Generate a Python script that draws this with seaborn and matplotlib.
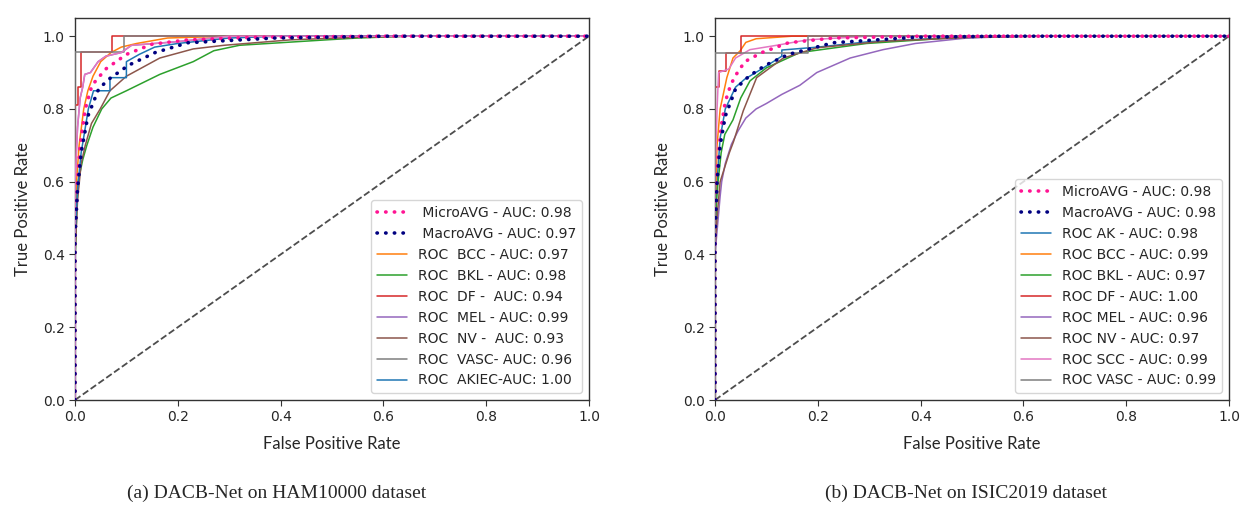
import matplotlib.pyplot as plt
import seaborn as sns

# ---- HAM10000 (left panel) ----
ham_micro_fpr = [0, 0, 0.005, 0.01, 0.02, 0.033, 0.06, 0.1, 0.15, 0.22, 0.35, 0.6, 1.0]
ham_micro_tpr = [0, 0.45, 0.6, 0.7, 0.8, 0.865, 0.91, 0.95, 0.978, 0.99, 0.997, 1.0, 1.0]
ham_macro_fpr = [0, 0, 0.005, 0.012, 0.025, 0.046, 0.066, 0.104, 0.156, 0.22, 0.39, 0.6, 1.0]
ham_macro_tpr = [0, 0.45, 0.58, 0.68, 0.78, 0.855, 0.882, 0.92, 0.955, 0.982, 0.995, 1.0, 1.0]
ham_bcc_fpr = [0, 0, 0.003, 0.008, 0.017, 0.025, 0.035, 0.05, 0.07, 0.09, 0.12, 0.18, 0.3, 1.0]
ham_bcc_tpr = [0, 0.45, 0.6, 0.7, 0.8, 0.85, 0.89, 0.93, 0.955, 0.97, 0.98, 0.995, 1.0, 1.0]
ham_bkl_fpr = [0, 0, 0.003, 0.006, 0.015, 0.023, 0.035, 0.052, 0.07, 0.1, 0.165, 0.23, 0.27, 0.32, 0.49, 0.55, 0.65, 1.0]
ham_bkl_tpr = [0, 0.38, 0.5, 0.6, 0.66, 0.7, 0.75, 0.8, 0.83, 0.85, 0.895, 0.93, 0.96, 0.975, 0.99, 0.995, 1.0, 1.0]
ham_df_fpr = [0, 0, 0.006, 0.006, 0.012, 0.012, 0.072, 0.072, 1.0]
ham_df_tpr = [0, 0.81, 0.81, 0.86, 0.86, 0.957, 0.957, 1.0, 1.0]
ham_mel_fpr = [0, 0, 0.005, 0.01, 0.015, 0.019, 0.03, 0.045, 0.06, 0.09, 0.11, 0.2, 0.3, 1.0]
ham_mel_tpr = [0, 0.6, 0.75, 0.83, 0.86, 0.895, 0.9, 0.93, 0.945, 0.955, 0.975, 0.985, 1.0, 1.0]
ham_nv_fpr = [0, 0, 0.005, 0.012, 0.02, 0.032, 0.049, 0.068, 0.1, 0.165, 0.23, 0.29, 0.42, 0.55, 0.65, 1.0]
ham_nv_tpr = [0, 0.4, 0.55, 0.65, 0.7, 0.76, 0.8, 0.85, 0.89, 0.94, 0.965, 0.975, 0.99, 0.997, 1.0, 1.0]
ham_vasc_fpr = [0, 0, 0.095, 0.095, 1.0]
ham_vasc_tpr = [0, 0.957, 0.957, 1.0, 1.0]
ham_akiec_fpr = [0, 0, 0.005, 0.012, 0.026, 0.036, 0.068, 0.068, 0.1, 0.1, 0.125, 0.155, 0.2, 0.3, 0.4, 1.0]
ham_akiec_tpr = [0, 0.45, 0.58, 0.68, 0.8, 0.85, 0.85, 0.886, 0.886, 0.93, 0.95, 0.97, 0.98, 0.995, 1.0, 1.0]
ham_extra_fpr = [0, 0, 0.005, 0.01, 0.015, 0.019, 0.03, 0.045, 0.06, 0.09, 0.11, 0.2, 0.3, 1.0]
ham_extra_tpr = [0, 0.6, 0.75, 0.83, 0.86, 0.895, 0.9, 0.93, 0.945, 0.955, 0.975, 0.985, 1.0, 1.0]

# ---- ISIC2019 (right panel) ----
isic_micro_fpr = [0, 0, 0.005, 0.012, 0.02, 0.03, 0.039, 0.058, 0.091, 0.143, 0.23, 0.4, 1.0]
isic_micro_tpr = [0, 0.5, 0.65, 0.75, 0.82, 0.864, 0.89, 0.93, 0.955, 0.982, 0.995, 1.0, 1.0]
isic_macro_fpr = [0, 0, 0.004, 0.01, 0.02, 0.04, 0.066, 0.098, 0.143, 0.23, 0.39, 0.55, 1.0]
isic_macro_tpr = [0, 0.45, 0.6, 0.7, 0.78, 0.855, 0.89, 0.92, 0.95, 0.982, 0.997, 1.0, 1.0]
isic_ak_fpr = [0, 0, 0.004, 0.01, 0.02, 0.04, 0.058, 0.091, 0.13, 0.13, 0.2, 0.3, 0.45, 0.6, 1.0]
isic_ak_tpr = [0, 0.45, 0.6, 0.72, 0.8, 0.86, 0.882, 0.91, 0.945, 0.962, 0.97, 0.985, 0.995, 1.0, 1.0]
isic_bcc_fpr = [0, 0, 0.004, 0.01, 0.023, 0.035, 0.049, 0.06, 0.08, 0.15, 1.0]
isic_bcc_tpr = [0, 0.5, 0.7, 0.8, 0.886, 0.94, 0.96, 0.983, 0.993, 1.0, 1.0]
isic_bkl_fpr = [0, 0, 0.003, 0.006, 0.012, 0.019, 0.035, 0.05, 0.068, 0.1, 0.165, 0.295, 0.457, 0.6, 1.0]
isic_bkl_tpr = [0, 0.45, 0.55, 0.6, 0.68, 0.73, 0.77, 0.83, 0.877, 0.913, 0.955, 0.98, 0.995, 1.0, 1.0]
isic_df_fpr = [0, 0, 0.007, 0.007, 0.021, 0.021, 0.05, 0.05, 1.0]
isic_df_tpr = [0, 0.86, 0.86, 0.905, 0.905, 0.955, 0.955, 1.0, 1.0]
isic_mel_fpr = [0, 0, 0.005, 0.01, 0.013, 0.02, 0.032, 0.045, 0.06, 0.08, 0.1, 0.13, 0.165, 0.198, 0.263, 0.327, 0.39, 0.49, 0.6, 1.0]
isic_mel_tpr = [0, 0.4, 0.48, 0.56, 0.6, 0.65, 0.703, 0.74, 0.775, 0.8, 0.815, 0.84, 0.865, 0.9, 0.94, 0.963, 0.98, 0.995, 1.0, 1.0]
isic_nv_fpr = [0, 0, 0.005, 0.01, 0.019, 0.028, 0.036, 0.055, 0.081, 0.133, 0.198, 0.327, 0.5, 0.65, 1.0]
isic_nv_tpr = [0, 0.42, 0.52, 0.6, 0.64, 0.68, 0.71, 0.795, 0.886, 0.94, 0.968, 0.986, 0.997, 1.0, 1.0]
isic_scc_fpr = [0, 0, 0.004, 0.007, 0.027, 0.04, 0.068, 0.12, 0.18, 0.3, 1.0]
isic_scc_tpr = [0, 0.6, 0.8, 0.9, 0.91, 0.94, 0.963, 0.975, 0.99, 1.0, 1.0]
isic_vasc_fpr = [0, 0, 0.18, 0.18, 1.0]
isic_vasc_tpr = [0, 0.955, 0.955, 1.0, 1.0]

ham_labels = [' MicroAVG - AUC: 0.98', ' MacroAVG - AUC: 0.97',
              'ROC  BCC - AUC: 0.97', 'ROC  BKL - AUC: 0.98', 'ROC  DF -  AUC: 0.94',
              'ROC  MEL - AUC: 0.99', 'ROC  NV -  AUC: 0.93', 'ROC  VASC- AUC: 0.96',
              'ROC  AKIEC-AUC: 1.00']
isic_labels = ['MicroAVG - AUC: 0.98', 'MacroAVG - AUC: 0.98',
               'ROC AK - AUC: 0.98', 'ROC BCC - AUC: 0.99', 'ROC BKL - AUC: 0.97',
               'ROC DF - AUC: 1.00', 'ROC MEL - AUC: 0.96', 'ROC NV - AUC: 0.97',
               'ROC SCC - AUC: 0.99', 'ROC VASC - AUC: 0.99']
ticks = [0.0, 0.2, 0.4, 0.6, 0.8, 1.0]
captions = ['(a) DACB-Net on HAM10000 dataset', '(b) DACB-Net on ISIC2019 dataset']

C_BLUE, C_ORANGE, C_GREEN, C_RED = '#1f77b4', '#ff7f0e', '#2ca02c', '#d62728'
C_PURPLE, C_BROWN, C_PINK, C_GRAY = '#9467bd', '#8c564b', '#e377c2', '#7f7f7f'
DOT = (0, (0.1, 2.3))

sns.set_style('ticks')
plt.rcParams['font.family'] = ['DejaVu Sans']
plt.rcParams['xtick.direction'] = 'out'
plt.rcParams['ytick.direction'] = 'out'

fig = plt.figure(figsize=(12.57, 5.23), dpi=100)
ax1 = fig.add_axes([75 / 1257, 123 / 523, 514 / 1257, 382 / 523])
ax2 = fig.add_axes([715 / 1257, 123 / 523, 514 / 1257, 382 / 523])


def curve(ax, fpr, tpr, color, label, dotted=False, z=3):
    if dotted:
        sns.lineplot(x=fpr, y=tpr, ax=ax, sort=False, estimator=None, color=color,
                     linewidth=2.6, linestyle=DOT, dash_capstyle='round',
                     label=label, zorder=4)
    else:
        sns.lineplot(x=fpr, y=tpr, ax=ax, sort=False, estimator=None, color=color,
                     linewidth=1.1, label=label, zorder=z)


# left panel
curve(ax1, ham_micro_fpr, ham_micro_tpr, 'deeppink', ham_labels[0], dotted=True)
curve(ax1, ham_macro_fpr, ham_macro_tpr, 'navy', ham_labels[1], dotted=True)
curve(ax1, ham_bcc_fpr, ham_bcc_tpr, C_ORANGE, ham_labels[2])
curve(ax1, ham_bkl_fpr, ham_bkl_tpr, C_GREEN, ham_labels[3])
curve(ax1, ham_df_fpr, ham_df_tpr, C_RED, ham_labels[4])
curve(ax1, ham_mel_fpr, ham_mel_tpr, C_PURPLE, ham_labels[5], z=2.5)
curve(ax1, ham_nv_fpr, ham_nv_tpr, C_BROWN, ham_labels[6])
curve(ax1, ham_vasc_fpr, ham_vasc_tpr, C_GRAY, ham_labels[7])
curve(ax1, ham_akiec_fpr, ham_akiec_tpr, C_BLUE, ham_labels[8])
curve(ax1, ham_extra_fpr, ham_extra_tpr, C_PINK, '_nolegend_')

# right panel
curve(ax2, isic_micro_fpr, isic_micro_tpr, 'deeppink', isic_labels[0], dotted=True)
curve(ax2, isic_macro_fpr, isic_macro_tpr, 'navy', isic_labels[1], dotted=True)
curve(ax2, isic_ak_fpr, isic_ak_tpr, C_BLUE, isic_labels[2])
curve(ax2, isic_bcc_fpr, isic_bcc_tpr, C_ORANGE, isic_labels[3])
curve(ax2, isic_bkl_fpr, isic_bkl_tpr, C_GREEN, isic_labels[4])
curve(ax2, isic_df_fpr, isic_df_tpr, C_RED, isic_labels[5])
curve(ax2, isic_mel_fpr, isic_mel_tpr, C_PURPLE, isic_labels[6])
curve(ax2, isic_nv_fpr, isic_nv_tpr, C_BROWN, isic_labels[7])
curve(ax2, isic_scc_fpr, isic_scc_tpr, C_PINK, isic_labels[8])
curve(ax2, isic_vasc_fpr, isic_vasc_tpr, C_GRAY, isic_labels[9])

for ax, cap, cx in [(ax1, captions[0], 277), (ax2, captions[1], 966)]:
    ax.plot([0, 1], [0, 1], color='0.3', linestyle='--', linewidth=1.3, zorder=2)
    ax.set_xlim(0, 1.0)
    ax.set_ylim(0, 1.05)
    ax.set_xticks(ticks)
    ax.set_yticks(ticks)
    ax.tick_params(labelsize=10, length=4, color='0.2')
    for s in ax.spines.values():
        s.set_color('0.2')
        s.set_linewidth(1.0)
    ax.set_xlabel('False Positive Rate', fontsize=12, family='Lato', labelpad=8)
    ax.set_ylabel('True Positive Rate', fontsize=12, family='Lato', labelpad=8)
    ax.legend(loc='lower right', fontsize=10, handlelength=2.2, labelspacing=0.5)
    fig.text(cx / 1257, 1 - 493 / 523, cap, ha='center', va='center',
             fontsize=14, family='Liberation Serif')

fig.savefig('out.png', dpi=100)
